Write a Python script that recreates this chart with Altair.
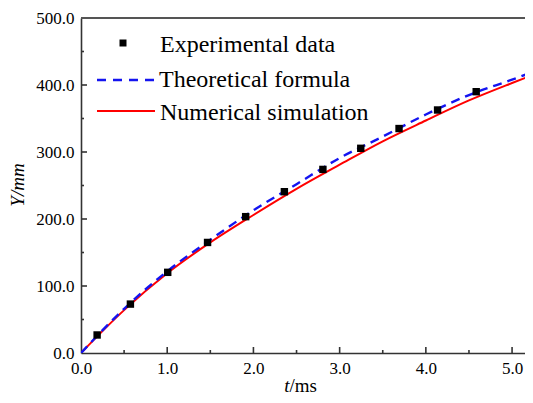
import altair as alt
import pandas as pd

# Experimental data (t in ms, Y in mm)
exp_t = [0.187, 0.573, 1.006, 1.468, 1.91, 2.359, 2.806, 3.245, 3.689, 4.136, 4.584]
exp_y = [26.9, 73.0, 120.4, 165.0, 203.5, 240.7, 274.0, 305.5, 335.0, 362.7, 390.0]

# Theoretical formula curve
theo_t = [0.0, 0.5, 1.0, 1.5, 2.0, 2.5, 3.0, 3.5, 4.0, 4.5, 5.0, 5.18]
theo_y = [0.0, 66.0, 122.0, 169.0, 213.0, 252.0, 291.0, 323.0, 356.0, 385.0, 408.0, 416.5]

# Numerical simulation curve
num_t = [0.0, 0.5, 1.0, 1.5, 2.0, 2.5, 3.0, 3.5, 4.0, 4.5, 5.0, 5.18]
num_y = [0.0, 64.0, 119.0, 165.0, 206.0, 245.0, 281.0, 316.0, 347.0, 377.0, 403.0, 412.0]

x_major = [1, 2, 3, 4, 5]
x_minor = [0.5, 1.5, 2.5, 3.5, 4.5]
y_major = [100, 200, 300, 400]
y_minor = [50, 150, 250, 350, 450]

W, H = 444, 335
FONT = "Liberation Serif"
AX = "#333333"

xs = alt.Scale(domain=[0, 5.15], nice=False, zero=False)
ys = alt.Scale(domain=[0, 500], nice=False)

exp_df = pd.DataFrame({"t": exp_t, "Y": exp_y})
theo_df = pd.DataFrame({"t": theo_t, "Y": theo_y})
num_df = pd.DataFrame({"t": num_t, "Y": num_y})

x_axis = alt.Axis(values=[0, 1, 2, 3, 4, 5], format=".1f", title=None, ticks=False,
                  grid=False, labelFont=FONT, labelFontSize=17, labelColor="black",
                  labelPadding=7, domainColor=AX, domainWidth=1.6, labelFlush=False)
y_axis = alt.Axis(values=[0, 100, 200, 300, 400, 500], format=".1f", title=None, ticks=False,
                  grid=False, labelFont=FONT, labelFontSize=17, labelColor="black",
                  labelPadding=7, domainColor=AX, domainWidth=1.6, labelFlush=False)

num_line = alt.Chart(num_df).mark_line(color="#ff0000", strokeWidth=2, interpolate="monotone",
                                       clip=True).encode(
    x=alt.X("t:Q", scale=xs, axis=x_axis),
    y=alt.Y("Y:Q", scale=ys, axis=y_axis),
)
theo_line = alt.Chart(theo_df).mark_line(color="#1414f0", strokeWidth=2.4, strokeDash=[9, 6],
                                          interpolate="monotone", clip=True).encode(
    x=alt.X("t:Q", scale=xs), y=alt.Y("Y:Q", scale=ys))
points = alt.Chart(exp_df).mark_point(shape="square", filled=True, color="black", size=55, opacity=1).encode(
    x=alt.X("t:Q", scale=xs), y=alt.Y("Y:Q", scale=ys))

# ticks (inside)
xmaj = alt.Chart(pd.DataFrame({"t": x_major})).mark_rule(color=AX, strokeWidth=1.6).encode(
    x=alt.X("t:Q", scale=xs), y=alt.value(H), y2=alt.value(H - 6))
xmin = alt.Chart(pd.DataFrame({"t": x_minor})).mark_rule(color=AX, strokeWidth=1.6).encode(
    x=alt.X("t:Q", scale=xs), y=alt.value(H), y2=alt.value(H - 3))
ymaj = alt.Chart(pd.DataFrame({"Y": y_major})).mark_rule(color=AX, strokeWidth=1.6).encode(
    y=alt.Y("Y:Q", scale=ys), x=alt.value(0), x2=alt.value(6))
ymin = alt.Chart(pd.DataFrame({"Y": y_minor})).mark_rule(color=AX, strokeWidth=1.6).encode(
    y=alt.Y("Y:Q", scale=ys), x=alt.value(0), x2=alt.value(3))
top_border = alt.Chart(pd.DataFrame({"a": [0]})).mark_rule(color="#555555", strokeWidth=2).encode(
    x=alt.value(0), x2=alt.value(W), y=alt.value(0))

# legend
leg_df = pd.DataFrame({"a": [0]})
leg_sq = alt.Chart(leg_df).mark_point(shape="square", filled=True, color="black", size=49, opacity=1).encode(
    x=alt.value(42), y=alt.value(25))
leg_blue = alt.Chart(leg_df).mark_rule(color="#1414f0", strokeWidth=2.4, strokeDash=[9, 7]).encode(
    x=alt.value(16), x2=alt.value(74), y=alt.value(62))
leg_red = alt.Chart(leg_df).mark_rule(color="#ff0000", strokeWidth=2).encode(
    x=alt.value(16), x2=alt.value(74), y=alt.value(93))

def txt(s, x, y, size=24, style="normal", align="left", angle=0, baseline="alphabetic"):
    return alt.Chart(leg_df).mark_text(text=s, font=FONT, fontSize=size, fontStyle=style, color="black",
                                       align=align, baseline=baseline, angle=angle).encode(
        x=alt.value(x), y=alt.value(y))

t1 = txt("Experimental data", 79, 34)
t2 = txt("Theoretical formula", 78, 69)
t3 = txt("Numerical simulation", 79, 102)

xt1 = txt("t", 208.5, 374, size=19, style="italic", align="right")
xt2 = txt("/ms", 208.5, 374, size=19, align="left")
yt = txt("Y/mm", -63, 167, size=19, style="italic", align="center", angle=270, baseline="middle")

chart = alt.layer(
    top_border, xmaj, xmin, ymaj, ymin, num_line, theo_line, points,
    leg_sq, leg_blue, leg_red, t1, t2, t3, xt1, xt2, yt
).properties(
    width=W, height=H, autosize="none",
    padding={"left": 73, "top": 10, "right": 0, "bottom": 42},
).configure_view(stroke=None)

chart.save("out.html", embed_options={"renderer": "svg", "actions": False})
